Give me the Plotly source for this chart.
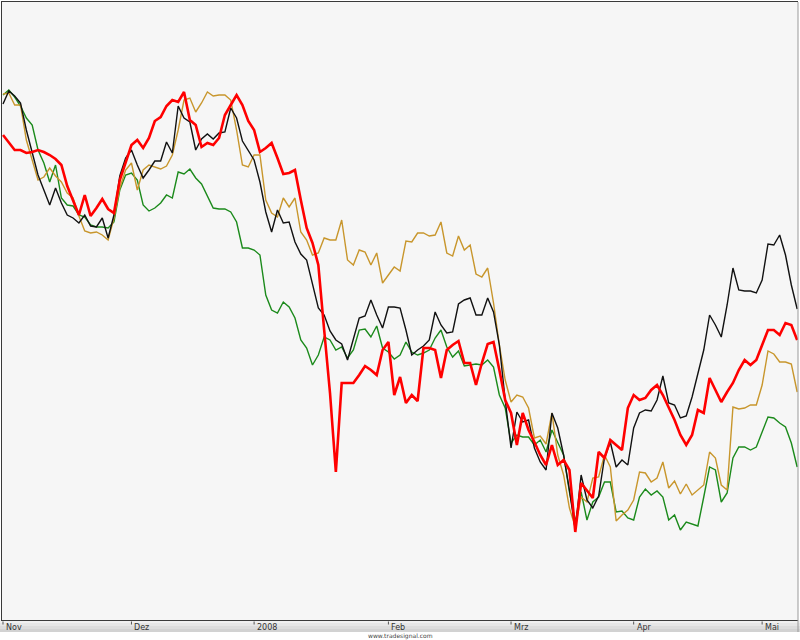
import plotly.graph_objects as go
import pandas as pd

# trading days (weekdays) shown on the chart
dates = pd.bdate_range("2007-11-01", "2008-05-09")
month_labels = ["Nov", "Dez", "2008", "Feb", "Mrz", "Apr", "Mai"]

black = [516, 529, 524, 517, 490, 468, 445, 430, 415, 432,
         417, 405, 402, 397, 405, 394, 393, 402, 382, 405,
         444, 462, 470, 455, 442, 450, 459, 459, 478, 467,
         514, 502, 498, 470, 481, 486, 481, 487, 488, 512,
         502, 479, 470, 460, 438, 408, 388, 410, 397, 398,
         378, 366, 360, 335, 312, 305, 289, 280, 276, 260,
         282, 302, 304, 320, 305, 292, 313, 313, 312, 290,
         265, 270, 274, 280, 308, 295, 287, 288, 316, 320,
         322, 305, 305, 322, 308, 275, 220, 172, 208, 198,
         200, 172, 158, 150, 207, 192, 165, 130, 90, 145,
         120, 112, 124, 162, 178, 153, 160, 155, 192, 207,
         210, 209, 220, 244, 217, 215, 202, 204, 223, 247,
         270, 305, 295, 283, 315, 352, 330, 329, 329, 327,
         340, 376, 375, 385, 365, 335, 311]

red = [485, 478, 470, 470, 467, 468, 470, 468, 465, 461,
       455, 434, 420, 405, 425, 404, 412, 421, 411, 407,
       440, 457, 475, 480, 472, 482, 499, 503, 514, 520,
       518, 528, 500, 495, 473, 477, 475, 482, 505, 515,
       525, 515, 499, 490, 468, 472, 477, 462, 446, 447,
       450, 420, 392, 377, 355, 290, 227, 148, 237, 237,
       237, 245, 254, 250, 245, 270, 278, 225, 243, 217,
       225, 219, 272, 272, 270, 242, 270, 275, 279, 257,
       257, 235, 257, 276, 278, 250, 220, 207, 175, 207,
       190, 178, 165, 155, 175, 155, 160, 150, 88, 137,
       130, 122, 168, 162, 180, 175, 170, 212, 225, 220,
       222, 230, 235, 225, 212, 200, 185, 175, 185, 210,
       207, 242, 230, 218, 228, 237, 250, 260, 255, 260,
       275, 290, 290, 285, 297, 295, 280]

gold = [526, 527, 515, 515, 480, 460, 440, 443, 452, 444,
        438, 427, 422, 404, 389, 387, 388, 385, 380, 402,
        432, 450, 457, 430, 450, 455, 453, 451, 454, 465,
        490, 520, 522, 508, 517, 528, 524, 525, 525, 520,
        490, 455, 453, 465, 465, 420, 407, 403, 422, 413,
        422, 388, 380, 365, 367, 382, 380, 380, 400, 360,
        355, 370, 368, 355, 367, 337, 345, 353, 349, 379,
        378, 387, 387, 384, 385, 398, 367, 364, 384, 370,
        375, 346, 343, 352, 317, 275, 240, 218, 225, 223,
        212, 182, 184, 176, 207, 165, 145, 112, 93, 123,
        118, 142, 143, 165, 153, 99, 105, 110, 120, 148,
        147, 138, 142, 158, 132, 139, 126, 136, 125, 130,
        135, 168, 162, 135, 130, 213, 211, 212, 215, 215,
        235, 269, 266, 258, 258, 256, 228]

green = [525, 530, 523, 514, 502, 495, 470, 457, 438, 455,
         422, 415, 414, 405, 403, 395, 393, 393, 392, 398,
         430, 445, 447, 440, 415, 409, 412, 417, 425, 422,
         448, 446, 451, 442, 436, 424, 412, 411, 411, 408,
         398, 372, 372, 370, 365, 325, 310, 307, 318, 313,
         302, 280, 272, 255, 265, 283, 280, 270, 273, 262,
         270, 290, 291, 283, 294, 272, 268, 261, 265, 278,
         268, 265, 267, 270, 282, 290, 273, 263, 269, 254,
         255, 256, 255, 260, 253, 225, 212, 177, 185, 183,
         183, 175, 180, 168, 190, 178, 165, 128, 98, 128,
         100, 118, 123, 138, 138, 108, 109, 102, 100, 123,
         131, 125, 129, 123, 100, 105, 90, 98, 96, 94,
         123, 153, 150, 118, 127, 162, 173, 173, 170, 173,
         188, 203, 202, 197, 193, 177, 153]

n = len(dates)
x = list(range(n))
tick_idx = [i for i in range(n) if i == 0 or dates[i].month != dates[i - 1].month]

fig = go.Figure()
series = [
    (green, "#1b8a1b", 1.4),
    (gold, "#c8962c", 1.4),
    (black, "#111111", 1.4),
    (red, "#ff0000", 2.6),
]
for vals, col, w in series:
    fig.add_trace(go.Scatter(x=x, y=vals[:n], mode="lines",
                             line=dict(color=col, width=w),
                             hoverinfo="skip", showlegend=False))

PH = 618.0  # plot height in px
shapes = []
# axis band with light gradient
band = ["#f0f0f0", "#e6e6e6", "#dcdcdc", "#d2d2d2"]
for k, c in enumerate(band):
    shapes.append(dict(type="rect", xref="paper", yref="paper",
                       x0=-0.01, x1=1.01, y0=-(3 * (k + 1)) / PH, y1=-(3 * k) / PH,
                       fillcolor=c, line=dict(width=0), layer="below"))
# right border
shapes.append(dict(type="line", xref="paper", yref="paper", x0=1, x1=1, y0=-12 / PH, y1=1,
                   line=dict(color="#9a9a9a", width=1)))

annotations = []
for i, lab in zip(tick_idx, month_labels):
    shapes.append(dict(type="line", xref="x", yref="paper", x0=i, x1=i,
                       y0=-1.5 / PH, y1=-4.5 / PH, line=dict(color="#555555", width=1)))
    annotations.append(dict(x=i, y=-7.5 / PH, xref="x", yref="paper", text=lab,
                            showarrow=False, xanchor="left", yanchor="middle", xshift=1,
                            font=dict(family="DejaVu Sans", size=8, color="#333333")))
annotations.append(dict(x=0.5, y=-16.0 / PH, xref="paper", yref="paper",
                        text="www.tradesignal.com", showarrow=False,
                        xanchor="center", yanchor="middle",
                        font=dict(family="DejaVu Sans", size=6, color="#444444")))

fig.update_layout(
    width=800, height=640,
    margin=dict(l=2, r=2, t=2, b=20),
    paper_bgcolor="#ffffff",
    plot_bgcolor="#f6f6f6",
    shapes=shapes,
    annotations=annotations,
    xaxis=dict(range=[-0.17, 136.14], showgrid=False, zeroline=False,
               showticklabels=False, ticks="", showline=True,
               linecolor="#3a3a3a", linewidth=1, mirror=True),
    yaxis=dict(range=[0, 618], showgrid=False, zeroline=False,
               showticklabels=False, ticks="", showline=True,
               linecolor="#3a3a3a", linewidth=1),
)

fig.write_html("out.html",
               config={"displayModeBar": False, "staticPlot": True},
               post_script="document.body.style.margin='0';document.body.style.overflow='hidden';")
